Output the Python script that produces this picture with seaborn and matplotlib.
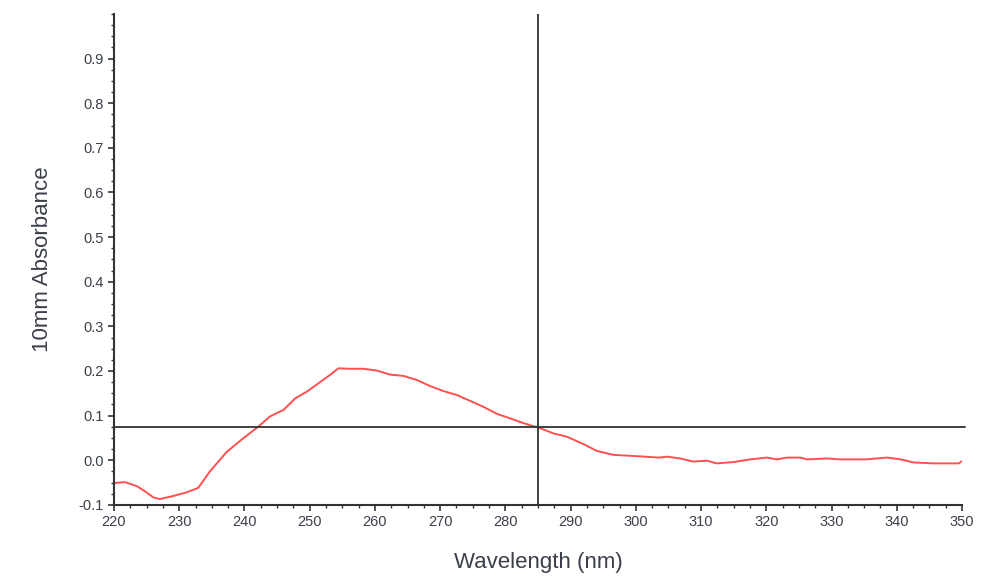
import pandas as pd
import matplotlib.pyplot as plt
import seaborn as sns
from matplotlib.ticker import MultipleLocator, FormatStrFormatter

# spectrum
wavelength = [220, 221.7, 223.5, 224.8, 226, 227, 229.1, 231.1, 232.9, 234.7, 237.3,
              239.8, 242.1, 243.9, 246, 247.8, 249.6, 251.3, 253.1, 254.4, 256.2,
              258.2, 260.3, 262.3, 264.4, 266.4, 268.5, 270.5, 272.6, 274.6, 276.6,
              278.7, 280.7, 282.8, 285.1, 287.4, 289.4, 292, 294, 296.6, 299.1,
              301.5, 303.5, 304.8, 306.8, 308.8, 310.9, 312.4, 315, 317.5, 320.1,
              321.6, 323.2, 325.2, 326.2, 329.3, 331.3, 335.4, 338.5, 340.6, 342.6,
              345.7, 349.5, 350]
absorbance = [-0.051, -0.049, -0.058, -0.07, -0.083, -0.087, -0.08, -0.072, -0.062, -0.025, 0.019,
              0.049, 0.075, 0.098, 0.113, 0.139, 0.154, 0.172, 0.191, 0.206, 0.205,
              0.205, 0.201, 0.192, 0.189, 0.18, 0.166, 0.155, 0.146, 0.133, 0.12,
              0.104, 0.094, 0.083, 0.073, 0.06, 0.053, 0.036, 0.021, 0.012, 0.010,
              0.008, 0.006, 0.008, 0.004, -0.003, -0.001, -0.007, -0.004, 0.002, 0.006,
              0.002, 0.006, 0.006, 0.002, 0.004, 0.002, 0.002, 0.006, 0.002, -0.005,
              -0.007, -0.007, -0.002]

cursor_x = 285
cursor_y = 0.074

df = pd.DataFrame({'Wavelength': wavelength, 'Absorbance': absorbance})

sns.set_style('white')
plt.rcParams['font.family'] = ['Liberation Sans', 'DejaVu Sans']
fig = plt.figure(figsize=(10, 5.81), dpi=100)
ax = fig.add_axes([0.114, 0.131, 0.848, 0.845])

sns.lineplot(data=df, x='Wavelength', y='Absorbance', color='#ff4f4f', lw=1.4, ax=ax)

# cursor lines
ax.axvline(cursor_x, color='#333333', lw=1.3)
ax.axhline(cursor_y, color='#333333', lw=1.3, xmax=1.004, clip_on=False)

ax.set_xlim(220, 350)
ax.set_ylim(-0.1, 1.0)
ax.xaxis.set_major_locator(MultipleLocator(10))
ax.xaxis.set_minor_locator(MultipleLocator(2.5))
ax.yaxis.set_major_locator(MultipleLocator(0.1))
ax.yaxis.set_minor_locator(MultipleLocator(0.025))
ax.yaxis.set_major_formatter(FormatStrFormatter('%.1f'))
ax.set_yticks([i / 10 for i in range(-1, 10)])

for s in ['top', 'right']:
    ax.spines[s].set_visible(False)
for s in ['left', 'bottom']:
    ax.spines[s].set_color('#333333')
    ax.spines[s].set_linewidth(1.5)

ax.tick_params(which='major', direction='out', length=4, width=1.2, color='#333333',
               labelsize=10.5, labelcolor='#3a3f4a', bottom=True, left=True)
ax.tick_params(which='minor', direction='out', length=2.5, width=1, color='#333333',
               bottom=True, left=True)

ax.set_xlabel('Wavelength (nm)', fontsize=16, color='#3a3f4a', labelpad=16)
ax.set_ylabel('10mm Absorbance', fontsize=16, color='#3a3f4a', labelpad=18)

plt.savefig('out.png')
